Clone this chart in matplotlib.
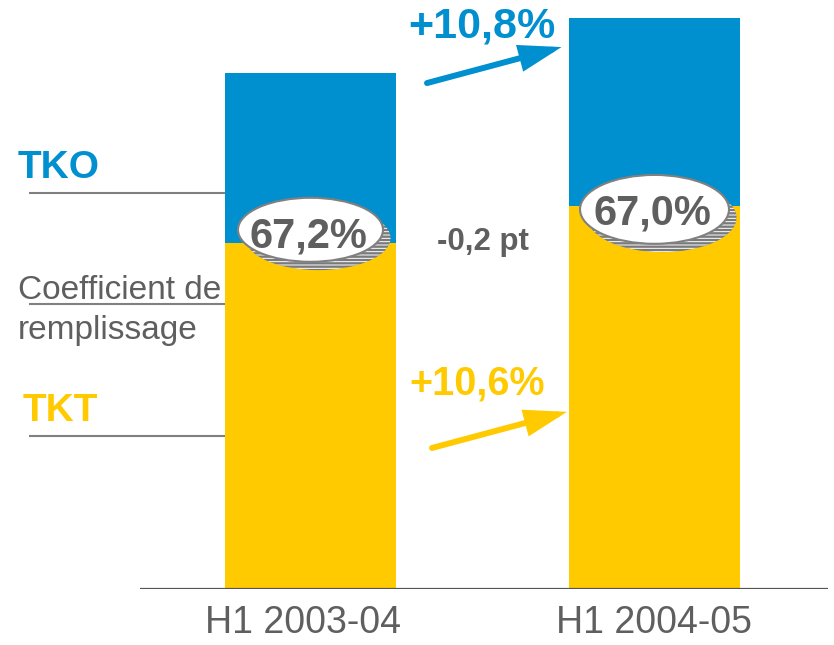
import matplotlib.pyplot as plt
from matplotlib.patches import Ellipse
from matplotlib.transforms import ScaledTranslation
import numpy as np

plt.rcParams['font.family'] = ['Liberation Sans', 'DejaVu Sans']
plt.rcParams['hatch.linewidth'] = 0.7

# Data (TKT = index 100 for H1 2003-04, TKO = total bar height)
periods = ['H1 2003-04', 'H1 2004-05']
tkt = np.array([100.0, 110.7])
tko = np.array([149.1, 165.0])
load_factor = ['67,2%', '67,0%']
tko_growth = '+10,8%'
tkt_growth = '+10,6%'
lf_change = '-0,2 pt'

blue = '#008FCF'
yellow = '#FFCB00'
grey_txt = '#5F5F5F'

fig = plt.figure(figsize=(8.34, 6.45), dpi=100)
ax = fig.add_axes([0, 56 / 645, 1, 589 / 645])
ax.set_xlim(-0.9026, 1.5218)
ax.set_ylim(0, 170.2)
for s in ax.spines.values():
    s.set_visible(False)
ax.set_yticks([])

x = np.arange(len(periods))
w = 0.497
ax.bar(x, tkt, width=w, color=yellow, zorder=2)
ax.bar(x, tko - tkt, bottom=tkt, width=w, color=blue, zorder=2)

ax.set_xticks(x, periods)
ax.tick_params(axis='x', length=0, pad=11.5, labelsize=27, labelcolor=grey_txt)
# first label sits a little left of its bar in the original
lbl = ax.get_xticklabels()[0]
lbl.set_transform(lbl.get_transform() + ScaledTranslation(-0.07, 0, fig.dpi_scale_trans))

# baseline
ax.hlines(0, -0.4956, 1.5044, color='#555555', lw=1.6, zorder=3)

# leader lines on the left
for yl in [114.5, 82.4, 44.2]:
    ax.hlines(yl, -0.818, -w / 2, color='#808080', lw=1.5, zorder=1)

ax.text(-0.850, 118.8, 'TKO', color=blue, fontsize=28, fontweight='bold', ha='left', va='baseline')
ax.text(-0.836, 48.6, 'TKT', color=yellow, fontsize=28, fontweight='bold', ha='left', va='baseline')
ax.text(-0.850, 83.8, 'Coefficient de', color=grey_txt, fontsize=24, ha='left', va='baseline')
ax.text(-0.850, 72.3, 'remplissage', color=grey_txt, fontsize=24, ha='left', va='baseline')

# load factor ellipses
ell_y = [103.8, 109.7]
ell_w = [0.4215, 0.433]
ell_h = [18.5, 19.9]
txt_dy = [-5.2, -4.5]
for i in range(len(periods)):
    sh = Ellipse((x[i] + 0.022, ell_y[i] - 2.4), ell_w[i], ell_h[i], facecolor='#7a7a7a',
                 edgecolor='white', hatch='-----', lw=0, zorder=4)
    ax.add_patch(sh)
    el = Ellipse((x[i], ell_y[i]), ell_w[i], ell_h[i], facecolor='white',
                 edgecolor='#808080', lw=1.5, zorder=5)
    ax.add_patch(el)
    ax.text(x[i] - 0.005, ell_y[i] + txt_dy[i], load_factor[i], color=grey_txt, fontsize=30,
            fontweight='bold', ha='center', va='baseline', zorder=6)

ax.text(0.5015, 98.0, lf_change, color=grey_txt, fontsize=22.5, fontweight='bold',
        ha='center', va='baseline')

# growth arrows
arrow_style = '-|>,head_length=1.1,head_width=0.35'
ax.annotate('', xy=(0.7297, 156.6), xytext=(0.3387, 146.2),
            arrowprops=dict(arrowstyle=arrow_style, color=blue, lw=4.3, joinstyle='miter',
                            mutation_scale=20, shrinkA=0, shrinkB=0))
ax.annotate('', xy=(0.7456, 51.2), xytext=(0.3532, 40.75),
            arrowprops=dict(arrowstyle=arrow_style, color=yellow, lw=4.3, joinstyle='miter',
                            mutation_scale=20, shrinkA=0, shrinkB=0))
ax.text(0.4985, 159.5, tko_growth, color=blue, fontsize=31, fontweight='bold',
        ha='center', va='baseline')
ax.text(0.4855, 56.1, tkt_growth, color=yellow, fontsize=28.5, fontweight='bold',
        ha='center', va='baseline')

fig.savefig('out.png', dpi=100)
